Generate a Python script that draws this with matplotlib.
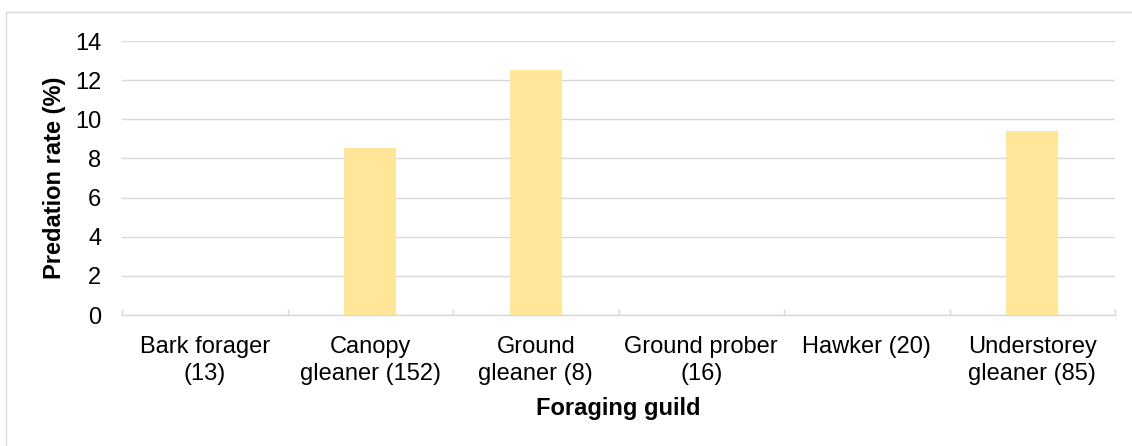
import matplotlib
matplotlib.use("Agg")
import matplotlib.pyplot as plt
from matplotlib.patches import Rectangle
import numpy as np

plt.rcParams['font.family'] = ['Liberation Sans', 'DejaVu Sans']

# Predation rate by foraging guild (sample size in brackets)
guilds = ["Bark forager\n(13)", "Canopy\ngleaner (152)", "Ground\ngleaner (8)",
          "Ground prober\n(16)", "Hawker (20)", "Understorey\ngleaner (85)"]
predation_rate = [0.0, 8.55, 12.5, 0.0, 0.0, 9.41]
y_ticks = [0, 2, 4, 6, 8, 10, 12, 14]

W, H, DPI = 1132, 446, 100
FS = 17
fig = plt.figure(figsize=(W / DPI, H / DPI), dpi=DPI)
fig.patch.set_facecolor("white")

# chart area outline
fig.patches.append(Rectangle((5.5 / W, -0.05), 1.2, 1 - 12 / H + 0.05,
                             transform=fig.transFigure, fill=False,
                             edgecolor="#d9d9d9", linewidth=1.0, zorder=0))

left, right = 122 / W, 1115 / W
bottom, top = 1 - 315 / H, 1 - 41 / H
ax = fig.add_axes([left, bottom, right - left, top - bottom])

grid_c = "#d9d9d9"
x = np.arange(len(guilds))
ax.bar(x, predation_rate, width=0.315, color="#FFE699", zorder=3)

ax.set_xlim(-0.5, len(guilds) - 0.5)
ax.set_ylim(0, 14)
ax.set_yticks(y_ticks)
ax.set_yticklabels([str(v) for v in y_ticks])
ax.tick_params(axis="y", length=0, pad=15, labelsize=FS, labelcolor="black")
ax.yaxis.grid(True, color=grid_c, linewidth=1.0, zorder=0)
ax.set_axisbelow(True)

# category boundary ticks, labels centred between them
ax.set_xticks(np.arange(-0.5, len(guilds), 1.0))
ax.set_xticklabels([])
ax.tick_params(axis="x", which="major", direction="in", length=4.5,
               color=grid_c, width=1.0)
ax.set_xticks(x, minor=True)
ax.set_xticklabels(guilds, minor=True, fontsize=FS, linespacing=1.3)
ax.tick_params(axis="x", which="minor", length=0, pad=15, labelcolor="black")

for s in ["top", "right", "left"]:
    ax.spines[s].set_visible(False)
ax.spines["bottom"].set_color(grid_c)
ax.spines["bottom"].set_linewidth(1.0)

fig.text(54 / W, 1 - 178 / H, "Predation rate (%)", rotation=90,
         ha="center", va="center", fontsize=FS, fontweight="bold")
fig.text((left + right) / 2, 1 - 409 / H, "Foraging guild",
         ha="center", va="center", fontsize=FS, fontweight="bold")

fig.savefig("out.png", dpi=DPI, facecolor="white")
